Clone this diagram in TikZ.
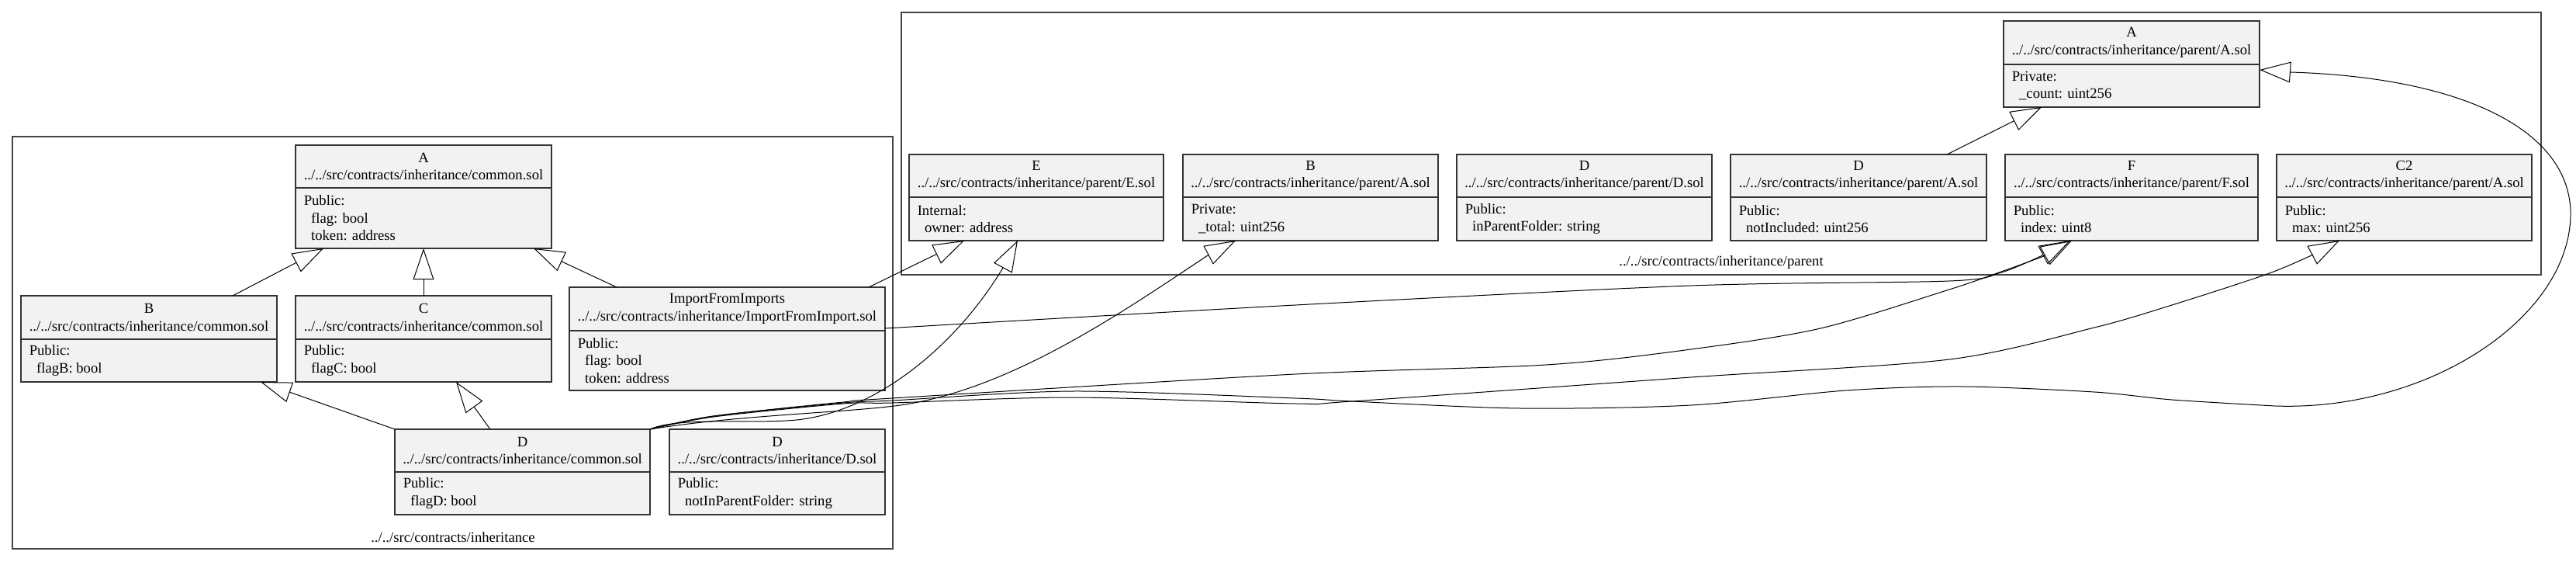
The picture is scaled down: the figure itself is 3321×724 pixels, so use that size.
\documentclass[tikz,border=0pt]{standalone}
\usepackage{fontspec}
\setmainfont{Liberation Serif}
\usetikzlibrary{arrows.meta,fit}
\definecolor{boxfill}{HTML}{F2F2F2}
\definecolor{boxline}{HTML}{333333}
\definecolor{clusline}{HTML}{444444}
\tikzset{
 umlbox/.style={draw=boxline, fill=boxfill, line width=1.1pt, inner sep=0pt, outer sep=0pt, rectangle},
 umlline/.style={draw=boxline, line width=1.1pt},
 hdr/.style={align=center, inner sep=0pt},
 bdy/.style={align=left, anchor=west, inner sep=0pt},
 clus/.style={draw=clusline, line width=1.3pt, inner sep=0pt, outer sep=0pt, rectangle},
 clab/.style={inner sep=0pt},
 inh/.style={draw=black, line width=0.75pt, -{Triangle[open, length=30pt, width=20pt]}},
}
% #1 name, #2 left, #3 top, #4 right, #5 bottom, #6 divider y, #7 header, #8 body
\newcommand\umlnode[8]{%
 \node[umlbox, fit={(#2,#3) (#4,#5)}] (#1) {};
 \draw[umlline] (#1.west |- 0,#6) -- (#1.east |- 0,#6);
 \node[hdr] (#1h) at ({(#2+#4)/2},{(#3+#6)/2}) {#7};
 \node[bdy] (#1b) at ({#2+10.5},{(#6+#5)/2}) {#8};
}
\newcommand\ind{\hspace*{7pt}}
\begin{document}
\begin{tikzpicture}[x=0.75pt, y=-0.75pt, font=\fontsize{14pt}{16.8pt}\selectfont]
\useasboundingbox (0,0) rectangle (3321,724);
% clusters
\node[clus, fit={(16,176) (1151,707)}] (Lc) {};
\node[clab] (Lcl) at (584,692) {../../src/contracts/inheritance};
\node[clus, fit={(1162,16) (3276,354)}] (Rc) {};
\node[clab] (Rcl) at (2219,338) {../../src/contracts/inheritance/parent};
% left cluster nodes
\umlnode{A1}{381}{187}{711}{320}{242}{A\\../../src/contracts/inheritance/common.sol}{Public:\\\ind flag: bool\\\ind token: address}
\umlnode{B1}{27}{381}{357}{492}{437}{B\\../../src/contracts/inheritance/common.sol}{Public:\\\ind flagB: bool}
\umlnode{C1}{381}{381}{711}{492}{437}{C\\../../src/contracts/inheritance/common.sol}{Public:\\\ind flagC: bool}
\umlnode{I1}{734}{370}{1141}{503}{426}{ImportFromImports\\../../src/contracts/inheritance/ImportFromImport.sol}{Public:\\\ind flag: bool\\\ind token: address}
\umlnode{D1}{509}{553}{838}{663}{608}{D\\../../src/contracts/inheritance/common.sol}{Public:\\\ind flagD: bool}
\umlnode{D2}{863}{553}{1141}{663}{608}{D\\../../src/contracts/inheritance/D.sol}{Public:\\\ind notInParentFolder: string}
% right cluster nodes
\umlnode{A2}{2583}{27}{2913}{138}{83}{A\\../../src/contracts/inheritance/parent/A.sol}{Private:\\\ind \_count: uint256}
\umlnode{E2}{1172}{199}{1500}{310}{254}{E\\../../src/contracts/inheritance/parent/E.sol}{Internal:\\\ind owner: address}
\umlnode{B2}{1525}{199}{1854}{310}{254}{B\\../../src/contracts/inheritance/parent/A.sol}{Private:\\\ind \_total: uint256}
\umlnode{D3}{1878}{199}{2207}{310}{254}{D\\../../src/contracts/inheritance/parent/D.sol}{Public:\\\ind inParentFolder: string}
\umlnode{D4}{2231}{199}{2561}{310}{254}{D\\../../src/contracts/inheritance/parent/A.sol}{Public:\\\ind notIncluded: uint256}
\umlnode{F2}{2585}{199}{2911}{310}{254}{F\\../../src/contracts/inheritance/parent/F.sol}{Public:\\\ind index: uint8}
\umlnode{C22}{2935}{199}{3264}{310}{254}{C2\\../../src/contracts/inheritance/parent/A.sol}{Public:\\\ind max: uint256}
% edges inside left cluster
\draw[inh] (300,0 |- B1.north) -- (417,0 |- A1.south);
\draw[inh] (546,0 |- C1.north) -- (546,0 |- A1.south);
\draw[inh] (795,0 |- I1.north) -- (688,0 |- A1.south);
\draw[inh] (D1.north west) -- (336,0 |- B1.south);
\draw[inh] (632,0 |- D1.north) -- (588,0 |- C1.south);
% edges to parent cluster
\draw[inh] (1120,0 |- I1.north) -- (1243,0 |- E2.south);
\draw[inh] (D1.north east) .. controls (870,538) and (960,545) .. (1013,542) .. controls (1120,538) and (1230,450) .. (1293,345) -- (1312,0 |- E2.south);
\draw[inh] (D1.north east) .. controls (950,535) and (1080,532) .. (1153,523) .. controls (1300,505) and (1450,400) .. (1557,329) -- (1593,0 |- B2.south);
\draw[inh] plot[smooth, tension=0.5] coordinates {(I1.east |- 0,423) (1670,393) (2180,368) (2513,362) (2580,351) (2633,329)} -- (2669,0 |- F2.south);
\draw[inh] plot[smooth, tension=0.5] coordinates {(D1.north east) (920,536) (1087,518) (1150,513) (1670,482) (1993,470) (2180,450) (2347,423) (2513,373) (2580,350) (2635,330)} -- (2671,0 |- F2.south);
\draw[inh] plot[smooth, tension=0.5] coordinates {(D1.north east) (920,537) (1087,520) (1150,519) (1383,512) (1670,520) (1743,517) (2180,486) (2513,463) (2700,422) (2800,393) (2923,353) (2982,328)} -- (3016,0 |- C22.south);
\draw[inh] plot[smooth, tension=0.5] coordinates {(D1.north east) (920,536) (1087,519) (1150,516) (1383,504) (1670,513) (1743,517) (1960,526) (2180,522) (2380,503) (2530,498) (2700,505) (2800,515) (2933,523)} .. controls (3130,530) and (3312,410) .. (3314,277) .. controls (3315,170) and (3180,100) .. (2953,93) -- (A2.east |- 0,90);
\draw[inh] (2510,0 |- D4.north) -- (2632,0 |- A2.south);
\end{tikzpicture}
\end{document}
